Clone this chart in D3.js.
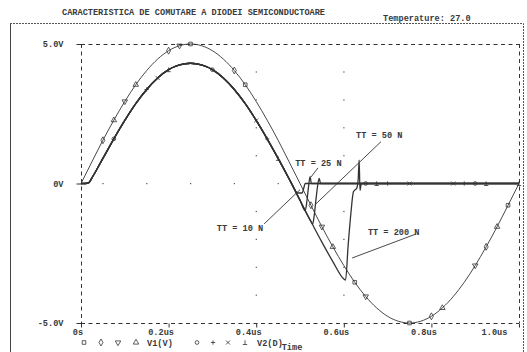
<!DOCTYPE html>
<html>
<head>
<meta charset="utf-8">
<script src="https://cdn.jsdelivr.net/npm/d3@7"></script>
<style>
  body { margin: 0; background: #fff; }
  text { font-family: "Liberation Mono", "DejaVu Sans Mono", monospace; font-size: 8.6px; font-weight: bold; fill: #3a3a3a; }
</style>
</head>
<body>
<svg id="chart" width="527" height="352"></svg>
<script>
(function () {
  "use strict";

  // V1(V): source voltage, read every 0.025us
  var timeV1 = [0, 0.025, 0.05, 0.075, 0.1, 0.125, 0.15, 0.175, 0.2, 0.225, 0.25, 0.275, 0.3, 0.325, 0.35, 0.375,
    0.4, 0.425, 0.45, 0.475, 0.5, 0.525, 0.55, 0.575, 0.6, 0.625, 0.65, 0.675, 0.7, 0.725, 0.75, 0.775,
    0.8, 0.825, 0.85, 0.875, 0.9, 0.925, 0.95, 0.975, 1.0];
  var valuesV1 = [0, 0.78, 1.55, 2.27, 2.94, 3.54, 4.05, 4.46, 4.76, 4.94, 5.0, 4.94, 4.76, 4.46, 4.05, 3.54,
    2.94, 2.27, 1.55, 0.78, 0, -0.78, -1.55, -2.27, -2.94, -3.54, -4.05, -4.46, -4.76, -4.94, -5.0, -4.94,
    -4.76, -4.46, -4.05, -3.54, -2.94, -2.27, -1.55, -0.78, 0];

  // V2(D): forward part, shared by all four runs
  var timeV2 = [0, 0.01, 0.018, 0.025, 0.05, 0.075, 0.1, 0.125, 0.15, 0.175, 0.2, 0.225, 0.25, 0.275, 0.3,
    0.325, 0.35, 0.375, 0.4, 0.425, 0.45, 0.475];
  var valuesV2 = [0, 0, 0.03, 0.2, 0.9, 1.6, 2.26, 2.86, 3.37, 3.78, 4.08, 4.25, 4.31, 4.25, 4.08,
    3.78, 3.37, 2.86, 2.26, 1.6, 0.9, 0.17];

  // V2(D) after the zero crossing, one tail per transit time
  var tt10Times = [0.485, 0.49, 0.495, 0.505, 0.508, 0.512, 0.525, 0.55, 0.575, 0.6, 0.625, 0.65, 0.675, 0.7,
    0.725, 0.75, 0.775, 0.8, 0.825, 0.85, 0.875, 0.9, 0.925, 0.95, 0.975, 1.0];
  var tt10Values = [-0.12, -0.27, -0.34, -0.34, -0.2, 0, 0, 0, 0, 0, 0, 0, 0, 0,
    0, 0, 0, 0, 0, 0, 0, 0, 0, 0, 0, 0];
  var tt25Times = [0.5, 0.512, 0.516, 0.52, 0.523, 0.526, 0.55, 0.575, 0.6, 0.625, 0.65, 0.675, 0.7,
    0.725, 0.75, 0.775, 0.8, 0.825, 0.85, 0.875, 0.9, 0.925, 0.95, 0.975, 1.0];
  var tt25Values = [-0.6, -0.97, -0.6, -0.05, 0.25, 0, 0, 0, 0, 0, 0, 0, 0,
    0, 0, 0, 0, 0, 0, 0, 0, 0, 0, 0, 0];
  var tt50Times = [0.5, 0.525, 0.529, 0.532, 0.537, 0.541, 0.544, 0.547, 0.575, 0.6, 0.625, 0.65, 0.675, 0.7,
    0.725, 0.75, 0.775, 0.8, 0.825, 0.85, 0.875, 0.9, 0.925, 0.95, 0.975, 1.0];
  var tt50Values = [-0.6, -1.36, -1.45, -1.2, -0.5, 0, 0.18, 0, 0, 0, 0, 0, 0, 0,
    0, 0, 0, 0, 0, 0, 0, 0, 0, 0, 0, 0];
  var tt200Times = [0.5, 0.525, 0.55, 0.575, 0.6, 0.604, 0.61, 0.616, 0.622, 0.63, 0.633, 0.635, 0.637, 0.64,
    0.65, 0.675, 0.7, 0.725, 0.75, 0.775, 0.8, 0.825, 0.85, 0.875, 0.9, 0.925, 0.95, 0.975, 1.0];
  var tt200Values = [-0.6, -1.36, -2.1, -2.8, -3.42, -3.46, -2.2, -1.1, -0.3, -0.15, 0.2, 0.84, -0.25, 0,
    0, 0, 0, 0, 0, 0, 0, 0, 0, 0, 0, 0, 0, 0, 0];

  // marker times for each run (square, diamond, down triangle, up triangle on V1)
  var v1Markers = [
    [0.25, 0.375, 0.625, 0.75, 0.975],
    [0.05, 0.2, 0.35, 0.525, 0.8, 0.925],
    [0.1, 0.225, 0.55, 0.65, 0.9],
    [0.075, 0.125, 0.575, 0.825, 0.95]
  ];
  // marker times on V2 (circle, plus, cross, up tack)
  var v2Markers = [
    [0.075, 0.3, 0.65, 0.9],
    [0.15, 0.425, 0.7, 0.875],
    [0.175, 0.4, 0.75, 0.85],
    [0.2, 0.45, 0.675, 0.925, 1.0]
  ];

  var xTicks = [0, 0.2, 0.4, 0.6, 0.8, 1.0];
  var xTickLabels = ["0s", "0.2us", "0.4us", "0.6us", "0.8us", "1.0us"];
  var yTicks = [-5, 0, 5];
  var yTickLabels = ["-5.0V", "0V", "5.0V"];

  var gridTimes = [0.4, 0.6];
  var gridVolts = [-4, -3, -2, -1, 1, 2, 3, 4];
  var zeroDotTimes = [0.05, 0.15, 0.25, 0.35, 0.45];

  var noteTexts = ["TT = 10 N", "TT = 25 N", "TT = 50 N", "TT = 200 N"];
  var noteTimes = [0.31, 0.489, 0.628, 0.655];
  var noteVolts = [-1.6, 0.74, 1.74, -1.74];
  var leaderFrom = [[0.418, -1.45], [0.541, 0.56], [0.685, 1.5], [0.765, -1.81]];
  var leaderTo = [[0.5, -0.22], [0.525, 0.23], [0.535, -0.75], [0.619, -2.67]];

  var ink = "#333";
  var svg = d3.select("#chart");
  var x = d3.scaleLinear().domain([0, 1.0]).range([81, 519]);
  var y = d3.scaleLinear().domain([-5, 5]).range([323, 44]);

  function zip(ts, vs) {
    return ts.map(function (t, i) { return [t, vs[i]]; });
  }

  // page frame
  svg.append("line").attr("x1", 10.5).attr("x2", 10.5).attr("y1", 23.5).attr("y2", 352)
    .attr("stroke", "#444");
  svg.append("path").attr("d", "M10,23.5H523.5V352")
    .attr("fill", "none").attr("stroke", "#555").attr("stroke-dasharray", "2,1");

  svg.append("text").attr("x", 62).attr("y", 15).text("CARACTERISTICA DE COMUTARE A DIODEI SEMICONDUCTOARE");
  svg.append("text").attr("x", 383).attr("y", 21).text("Temperature: 27.0");

  // dashed plot box
  var box = svg.append("g").attr("fill", "none").attr("stroke", ink).attr("stroke-dasharray", "4,3.5");
  box.append("line").attr("x1", x(0)).attr("x2", x(1)).attr("y1", y(5) + 0.5).attr("y2", y(5) + 0.5);
  box.append("line").attr("x1", x(0)).attr("x2", x(1)).attr("y1", y(-5) + 0.5).attr("y2", y(-5) + 0.5);
  box.append("line").attr("x1", x(0) + 0.5).attr("x2", x(0) + 0.5).attr("y1", y(5)).attr("y2", y(-5));
  box.append("line").attr("x1", x(1) + 0.5).attr("x2", x(1) + 0.5).attr("y1", y(5)).attr("y2", y(-5));

  // axes
  var xAxis = svg.append("g")
    .attr("transform", "translate(0," + (y(-5) + 0.5) + ")")
    .call(d3.axisBottom(x).tickValues(xTicks).tickSize(4).tickPadding(1.5)
      .tickFormat(function (d, i) { return xTickLabels[i]; }));
  xAxis.select(".domain").remove();
  xAxis.selectAll("line").attr("stroke", ink);
  xAxis.selectAll("text").attr("font-family", null).attr("font-size", null).attr("fill", null)
    .attr("dx", function (d, i) { return i === 0 ? -3.5 : (i === xTicks.length - 1 ? -25 : -8); });

  var yAxis = svg.append("g")
    .attr("transform", "translate(" + (x(0) + 0.5) + ",0)")
    .call(d3.axisLeft(y).tickValues(yTicks).tickSize(5).tickPadding(13)
      .tickFormat(function (d, i) { return yTickLabels[i]; }));
  yAxis.select(".domain").remove();
  yAxis.selectAll("line").attr("stroke", ink);
  yAxis.selectAll("text").attr("font-family", null).attr("font-size", null).attr("fill", null);

  // sparse grid dots
  var dots = [];
  gridTimes.forEach(function (t) {
    gridVolts.forEach(function (v) { dots.push([t, v]); });
  });
  zeroDotTimes.forEach(function (t) { dots.push([t, 0]); });
  svg.append("g").selectAll("rect").data(dots).enter().append("rect")
    .attr("x", function (d) { return x(d[0]) - 0.5; })
    .attr("y", function (d) { return y(d[1]) - 0.5; })
    .attr("width", 1.2).attr("height", 1.2).attr("fill", "#555");

  var line = d3.line()
    .x(function (d) { return x(d[0]); })
    .y(function (d) { return y(d[1]); })
    .curve(d3.curveMonotoneX);

  var v1Data = zip(timeV1, valuesV1);
  var common = zip(timeV2, valuesV2);
  var runs = [
    common.concat(zip(tt10Times, tt10Values)),
    common.concat(zip(tt25Times, tt25Values)),
    common.concat(zip(tt50Times, tt50Values)),
    common.concat(zip(tt200Times, tt200Values))
  ];

  var traces = svg.append("g").attr("fill", "none").attr("stroke", ink);
  runs.forEach(function (run) {
    traces.append("path").attr("d", line(run)).attr("stroke-width", 1.3);
  });
  traces.append("path").attr("d", line(v1Data)).attr("stroke-width", 0.9);

  // marker shapes
  var shapes = [
    d3.symbol().type(d3.symbolSquare).size(13)(),
    d3.symbol().type(d3.symbolDiamond).size(14)(),
    d3.symbol().type(d3.symbolTriangle).size(13)(),
    d3.symbol().type(d3.symbolTriangle).size(13)(),
    d3.symbol().type(d3.symbolCircle).size(11)(),
    "M-2.2,0H2.2M0,-2.2V2.2",
    "M-2,-2L2,2M-2,2L2,-2",
    "M-2.2,2H2.2M0,2V-2.2"
  ];
  var rotations = [0, 0, 180, 0, 0, 0, 0, 0];

  function drawMarker(g, px, py, k) {
    g.append("path").attr("d", shapes[k])
      .attr("transform", "translate(" + px + "," + py + ") rotate(" + rotations[k] + ")")
      .attr("fill", "none").attr("stroke", ink).attr("stroke-width", 0.8);
  }

  function pointAt(data, t) {
    return data.filter(function (d) { return Math.abs(d[0] - t) < 1e-9; })[0];
  }

  var markerLayer = svg.append("g");
  v1Markers.forEach(function (times, k) {
    times.forEach(function (t) {
      var p = pointAt(v1Data, t);
      if (p) drawMarker(markerLayer, x(p[0]), y(p[1]), k);
    });
  });
  v2Markers.forEach(function (times, k) {
    times.forEach(function (t) {
      var p = pointAt(runs[k], t);
      if (p) drawMarker(markerLayer, x(p[0]), y(p[1]), k + 4);
    });
  });

  // transit time notes
  var notes = svg.append("g");
  noteTexts.forEach(function (txt, i) {
    notes.append("text").attr("x", x(noteTimes[i])).attr("y", y(noteVolts[i])).attr("dy", "0.35em").text(txt);
    notes.append("line")
      .attr("x1", x(leaderFrom[i][0])).attr("y1", y(leaderFrom[i][1]))
      .attr("x2", x(leaderTo[i][0])).attr("y2", y(leaderTo[i][1]))
      .attr("stroke", ink).attr("stroke-width", 0.9);
  });

  // legend
  var legend = svg.append("g");
  var legendX = [84, 101, 118, 136, 197, 213, 228, 245];
  legendX.forEach(function (lx, k) { drawMarker(legend, lx, 342.5, k); });
  legend.append("text").attr("x", 147).attr("y", 345.5).text("V1(V)");
  legend.append("text").attr("x", 257).attr("y", 345.5).text("V2(D)");
  svg.append("text").attr("x", 292).attr("y", 350).attr("text-anchor", "middle").text("Time");
}());
</script>
</body>
</html>
